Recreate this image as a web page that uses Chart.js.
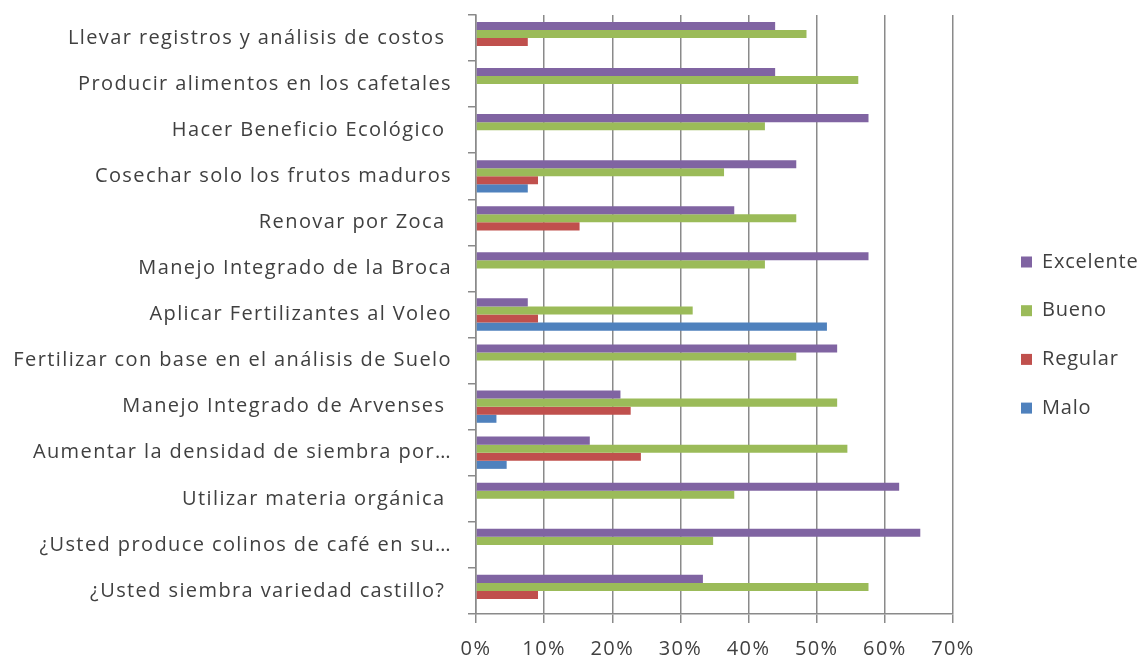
<!DOCTYPE html>
<html lang="es">
<head>
<meta charset="UTF-8">
<title>Prácticas en el cafetal</title>
<script src="https://cdn.jsdelivr.net/npm/chart.js"></script>
<style>
  body { margin: 0; background: #fff; }
  canvas { display: block; }
</style>
</head>
<body>
<canvas id="chart" width="1146" height="658"></canvas>
<script>
// data (percent of answers)
var categories = [
    'Llevar registros y análisis de costos ',
    'Producir alimentos en los cafetales',
    'Hacer Beneficio Ecológico ',
    'Cosechar solo los frutos maduros',
    'Renovar por Zoca ',
    'Manejo Integrado de la Broca',
    'Aplicar Fertilizantes al Voleo',
    'Fertilizar con base en el análisis de Suelo',
    'Manejo Integrado de Arvenses ',
    'Aumentar la densidad de siembra por…',
    'Utilizar materia orgánica ',
    '¿Usted produce colinos de café en su…',
    '¿Usted siembra variedad castillo? '
];
var excelente = [43.9, 43.9, 57.6, 47.0, 37.9, 57.6, 7.6, 53.0, 21.2, 16.7, 62.1, 65.2, 33.3];
var bueno = [48.5, 56.1, 42.4, 36.4, 47.0, 42.4, 31.8, 47.0, 53.0, 54.5, 37.9, 34.8, 57.6];
var regular = [7.6, 0, 0, 9.1, 15.2, 0, 9.1, 0, 22.7, 24.2, 0, 0, 9.1];
var malo = [0, 0, 0, 7.6, 0, 0, 51.5, 0, 3.0, 4.5, 0, 0, 0];
var xTickLabels = ['0%', '10%', '20%', '30%', '40%', '50%', '60%', '70%'];

var textColor = '#404040';
var gridColor = '#8a8a8a';
var fontFamily = '"Open Sans", Lato, sans-serif';

// the spreadsheet font is spaced out wider than Open Sans
var spacing = {
    id: 'spacing',
    beforeLayout: function (chart) { chart.ctx.letterSpacing = '1.4px'; },
    beforeDraw: function (chart) { chart.ctx.letterSpacing = '1.4px'; }
};

// legend drawn at the right like the spreadsheet one
var sideLegend = {
    id: 'sideLegend',
    afterDraw: function (chart) {
        var ctx = chart.ctx;
        var x = chart.chartArea.right + 68;
        ctx.save();
        ctx.font = '20px ' + fontFamily;
        ctx.letterSpacing = '0.8px';
        ctx.textBaseline = 'middle';
        chart.data.datasets.forEach(function (ds, i) {
            var y = 262 + i * 48.7;
            ctx.fillStyle = ds.backgroundColor;
            ctx.fillRect(x, y - 5.5, 11, 11);
            ctx.fillStyle = textColor;
            ctx.fillText(ds.label, x + 21, y);
        });
        ctx.restore();
    }
};

var ctx = document.getElementById('chart').getContext('2d');
var chart = new Chart(ctx, {
    type: 'bar',
    data: {
        labels: categories,
        datasets: [
            { label: 'Excelente', data: excelente, backgroundColor: '#8064A2' },
            { label: 'Bueno', data: bueno, backgroundColor: '#9BBB59' },
            { label: 'Regular', data: regular, backgroundColor: '#C0504D' },
            { label: 'Malo', data: malo, backgroundColor: '#4F81BD' }
        ]
    },
    options: {
        indexAxis: 'y',
        responsive: false,
        animation: false,
        categoryPercentage: 0.7,
        barPercentage: 1.0,
        layout: {
            padding: { top: 15, right: 193, bottom: 0, left: 0 }
        },
        plugins: {
            legend: { display: false },
            tooltip: { enabled: false }
        },
        scales: {
            x: {
                min: 0,
                max: 70,
                ticks: {
                    stepSize: 10,
                    color: textColor,
                    font: { family: fontFamily, size: 20 },
                    padding: 14,
                    callback: function (value, index) { return xTickLabels[index]; }
                },
                grid: { color: gridColor, lineWidth: 1.5, tickLength: 9 },
                border: { color: gridColor, width: 1.5 },
                afterFit: function (scale) { scale.height = 44; }
            },
            y: {
                ticks: {
                    color: textColor,
                    font: { family: fontFamily, size: 20 },
                    padding: 16,
                    autoSkip: false
                },
                grid: { drawOnChartArea: false, color: gridColor, lineWidth: 1.5, tickLength: 8 },
                border: { color: gridColor, width: 1.5 },
                afterFit: function (scale) {
                    scale.width = 476;
                    scale.paddingTop = 0;
                    scale.paddingBottom = 0;
                }
            }
        }
    },
    plugins: [spacing, sideLegend]
});
</script>
</body>
</html>
